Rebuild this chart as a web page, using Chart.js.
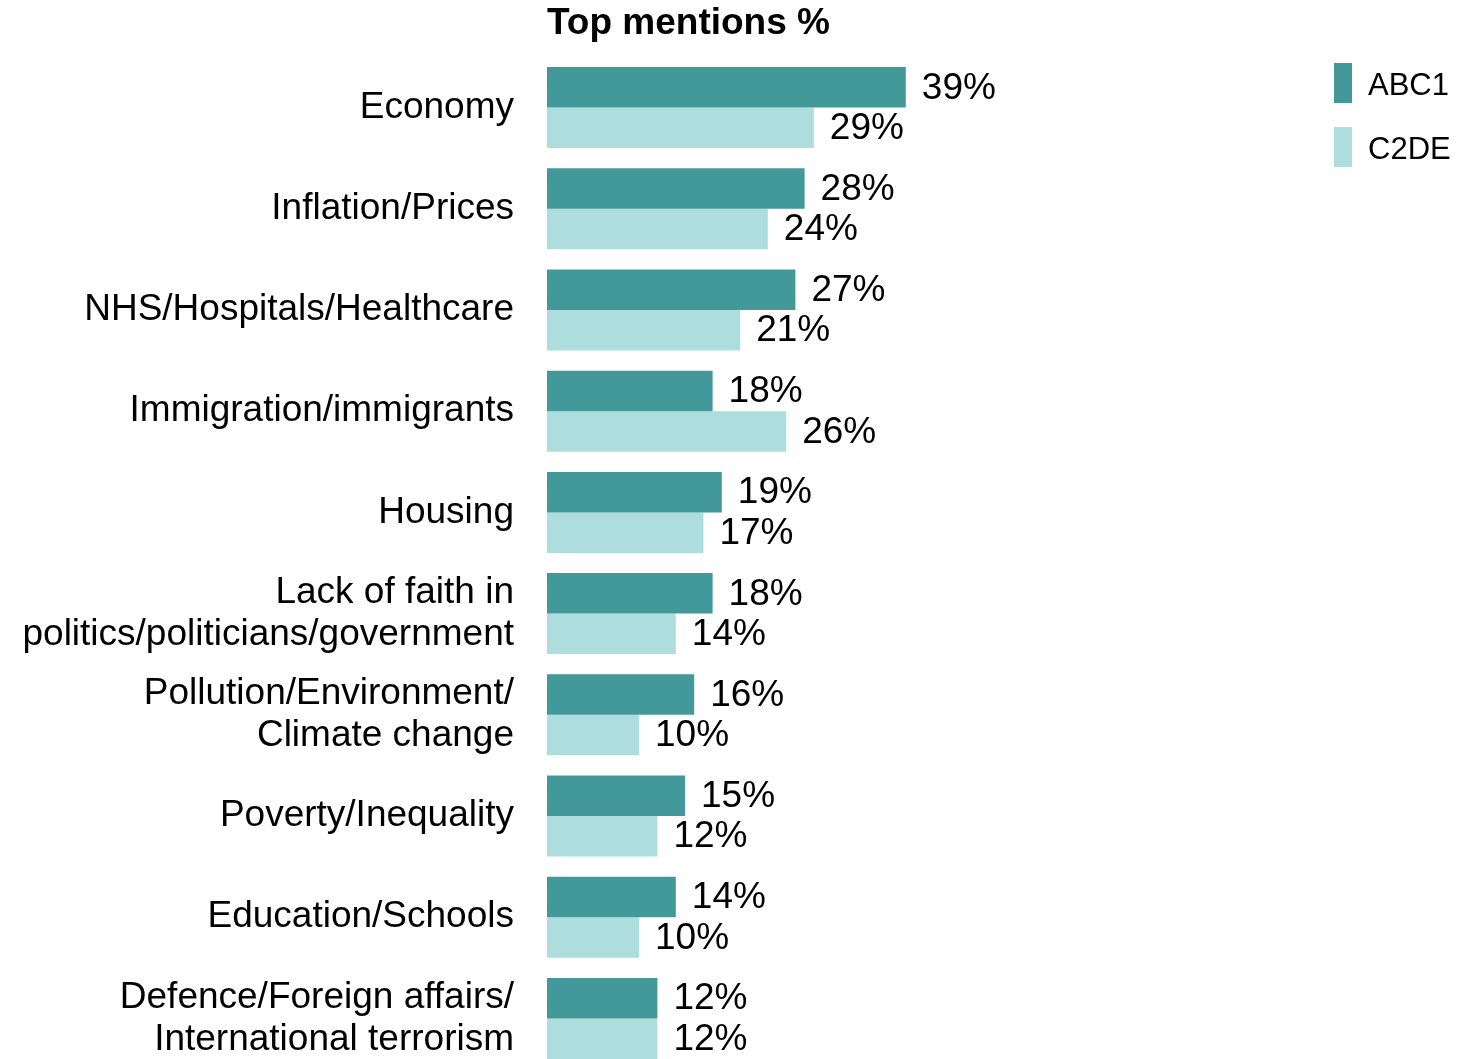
<!DOCTYPE html>
<html>
<head>
<meta charset="utf-8">
<script src="https://cdn.jsdelivr.net/npm/chart.js@4/dist/chart.umd.min.js"></script>
<style>
html,body{margin:0;padding:0;background:#fff;overflow:hidden;}
#wrap{width:1465px;height:1070px;}
</style>
</head>
<body>
<div id="wrap"><canvas id="c" width="1465" height="1070"></canvas></div>
<script>
const categories = [
  "Economy",
  "Inflation/Prices",
  "NHS/Hospitals/Healthcare",
  "Immigration/immigrants",
  "Housing",
  ["Lack of faith in", "politics/politicians/government"],
  ["Pollution/Environment/", "Climate change"],
  "Poverty/Inequality",
  "Education/Schools",
  ["Defence/Foreign affairs/", "International terrorism"]
];
const seriesNames = ["ABC1", "C2DE"];
const abc1Values = [39, 28, 27, 18, 19, 18, 16, 15, 14, 12];
const c2deValues = [29, 24, 21, 26, 17, 14, 10, 12, 10, 12];
const titleText = "Top mentions %";

const FONT = "'Liberation Sans', Arial, sans-serif";

const valueLabels = {
  id: 'valueLabels',
  afterDatasetsDraw(chart) {
    const ctx = chart.ctx;
    ctx.save();
    ctx.font = "37px " + FONT;
    ctx.fillStyle = "#000";
    ctx.textAlign = "left";
    ctx.textBaseline = "middle";
    chart.data.datasets.forEach((ds, di) => {
      const meta = chart.getDatasetMeta(di);
      meta.data.forEach((bar, i) => {
        ctx.fillText(ds.data[i] + "%", bar.x + 16, bar.y + 1);
      });
    });
    ctx.restore();
  }
};

const titleAndLegend = {
  id: 'titleAndLegend',
  afterDraw(chart) {
    const ctx = chart.ctx;
    ctx.save();
    ctx.fillStyle = "#000";
    ctx.font = "bold 37px " + FONT;
    ctx.textAlign = "left";
    ctx.textBaseline = "middle";
    ctx.fillText(titleText, chart.chartArea.left, 24);
    ctx.font = "31px " + FONT;
    chart.data.datasets.forEach((ds, i) => {
      const y = 63 + i * 64;
      ctx.fillStyle = ds.backgroundColor;
      ctx.fillRect(1334, y, 18, 40);
      ctx.fillStyle = "#000";
      ctx.fillText(ds.label, 1368, y + 23);
    });
    ctx.restore();
  }
};

new Chart(document.getElementById('c'), {
  type: 'bar',
  data: {
    labels: categories,
    datasets: [
      { label: seriesNames[0], data: abc1Values, backgroundColor: "#43999a", categoryPercentage: 0.8, barPercentage: 1.0 },
      { label: seriesNames[1], data: c2deValues, backgroundColor: "#addddd", categoryPercentage: 0.8, barPercentage: 1.0 }
    ]
  },
  options: {
    indexAxis: 'y',
    responsive: false,
    animation: false,
    devicePixelRatio: 1,
    layout: { padding: { left: 0, right: 274, top: 57, bottom: 1 } },
    plugins: { legend: { display: false }, tooltip: { enabled: false }, title: { display: false } },
    scales: {
      x: { display: false, min: 0, max: 70 },
      y: {
        grid: { display: false, drawTicks: false },
        border: { display: false },
        ticks: { color: "#000", font: { family: FONT, size: 37, lineHeight: 1.14 }, padding: 33, autoSkip: false },
        afterFit(scale) { scale.width = 547; scale.paddingTop = 0; scale.paddingBottom = 0; }
      }
    }
  },
  plugins: [valueLabels, titleAndLegend]
});
</script>
</body>
</html>
